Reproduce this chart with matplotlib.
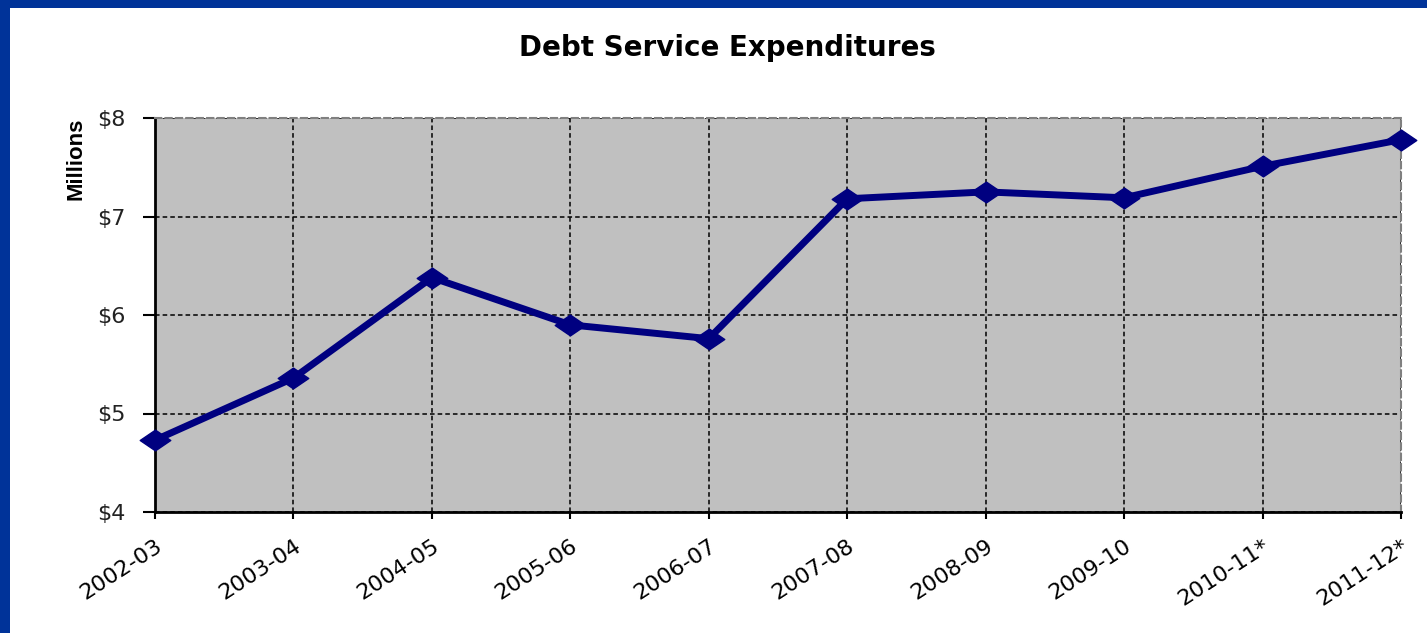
import matplotlib
matplotlib.use('Agg')
import matplotlib.pyplot as plt
import matplotlib.patches as patches
from matplotlib.path import Path

# data
years = ['2002-03', '2003-04', '2004-05', '2005-06', '2006-07',
         '2007-08', '2008-09', '2009-10', '2010-11*', '2011-12*']
debt_service = [4.73, 5.36, 6.38, 5.90, 5.76, 7.18, 7.25, 7.19, 7.51, 7.78]
y_ticks = [4, 5, 6, 7, 8]
y_tick_labels = ['$4', '$5', '$6', '$7', '$8']

navy = '#000080'
border_blue = '#003399'

fig = plt.figure(figsize=(14.27, 6.33), dpi=100)
fig.patch.set_facecolor('white')

# blue frame on top and left edge
fig.patches.append(patches.Rectangle((0, 1 - 8 / 633), 1, 8 / 633, transform=fig.transFigure,
                                     facecolor=border_blue, edgecolor='none', zorder=0))
fig.patches.append(patches.Rectangle((0, 0), 10 / 1427, 1, transform=fig.transFigure,
                                     facecolor=border_blue, edgecolor='none', zorder=0))

ax = fig.add_axes([155 / 1427, 1 - 512 / 633, (1401 - 155) / 1427, (512 - 118) / 633])
ax.set_facecolor('#C0C0C0')

x = list(range(len(years)))

# squashed diamond marker (wider than tall)
diamond = Path([(-1, 0), (0, 0.68), (1, 0), (0, -0.68), (-1, 0)],
               [Path.MOVETO, Path.LINETO, Path.LINETO, Path.LINETO, Path.CLOSEPOLY])

ax.plot(x, debt_service, color=navy, linewidth=5, marker=diamond, markersize=22,
        markerfacecolor=navy, markeredgecolor=navy, clip_on=False, zorder=5)

ax.set_xlim(0, len(years) - 1)
ax.set_ylim(4, 8)
ax.set_xticks(x)
ax.set_xticklabels(years, rotation=33, ha='right', rotation_mode='anchor', fontsize=16)
ax.set_yticks(y_ticks)
ax.set_yticklabels(y_tick_labels, fontsize=16, color='#222222')
ax.tick_params(axis='x', direction='out', length=5, width=1.5, color='black', pad=12)
ax.tick_params(axis='y', direction='out', length=9, width=1.5, color='black', pad=12)

# gridlines
ax.grid(True, color='black', linestyle=(0, (3, 2)), linewidth=1.1)
ax.set_axisbelow(True)

ax.spines['left'].set_linewidth(2)
ax.spines['bottom'].set_linewidth(2)
for side in ['top', 'right']:
    ax.spines[side].set_color('#808080')
    ax.spines[side].set_linestyle((0, (3, 2)))
    ax.spines[side].set_linewidth(1.5)

ax.set_ylabel('Millions', fontsize=16, fontweight='bold',
              family=['Liberation Sans Narrow', 'Liberation Sans', 'DejaVu Sans'])
ax.yaxis.set_label_coords(-0.055, 0.896)

fig.text(727 / 1427, 1 - 48 / 633, 'Debt Service Expenditures', ha='center', va='center',
         fontsize=20, fontweight='bold')

fig.savefig('out.png', dpi=100)
